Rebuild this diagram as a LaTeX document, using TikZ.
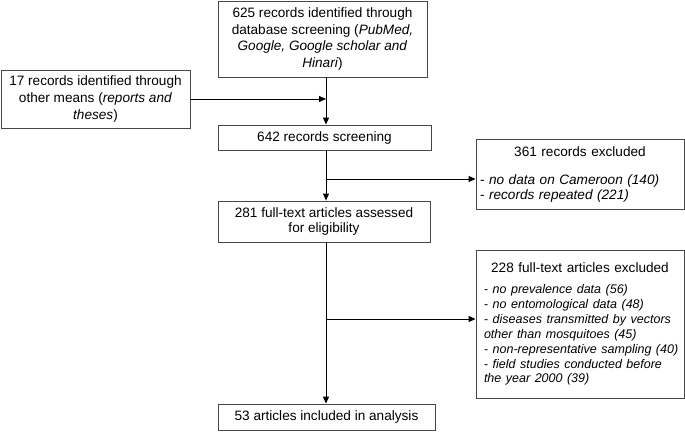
\documentclass[tikz,border=0pt]{standalone}
\usepackage{fontspec}
\setmainfont{Liberation Sans}
\usetikzlibrary{arrows.meta}
\begin{document}
\begin{tikzpicture}[x=1pt,y=-1pt,
  box/.style={draw=black!72, line width=0.9pt, inner sep=0pt, align=center,
    font=\fontsize{13.6}{16.7}\selectfont},
  exbox/.style={draw=black!72, line width=0.9pt, inner ysep=0pt, align=left,
    font=\fontsize{13.6}{14.7}\selectfont},
  arr/.style={line width=1pt, -{Triangle[length=7pt,width=6pt]}}]
\useasboundingbox (0,0) rectangle (685,432);
\node[box, minimum width=209pt, minimum height=76pt] (db) at (322.5,39)
  {625 records identified through\\database screening (\textit{PubMed,}\\\textit{Google, Google scholar and}\\\textit{Hinari})};
\node[box, minimum width=189pt, minimum height=58pt] (other) at (95.5,99)
  {17 records identified through\\other means (\textit{reports and}\\\textit{theses})};
\node[box, minimum width=213pt, minimum height=25pt] (scr) at (324.5,137.5)
  {642 records screening};
\node[box, minimum width=212pt, minimum height=41pt, font=\fontsize{13.6}{15}\selectfont] (elig) at (324,221.5)
  {281 full-text articles assessed\\for eligibility};
\node[box, minimum width=217pt, minimum height=26pt] (incl) at (326.5,417)
  {53 articles included in analysis};
\node[exbox, text width=200pt, inner xsep=4pt, minimum height=70pt, font=\fontsize{13.6}{15}\selectfont] (ex1) at (580,174)
  {\makebox[\linewidth][c]{361 records excluded}\\[13pt]
   \mbox{- \textit{no data on Cameroon (140)}}\\
   \mbox{- \textit{records repeated (221)}}};
\node[exbox, text width=192pt, inner xsep=8pt, minimum height=148pt] (ex2) at (580,324)
  {\makebox[\linewidth][c]{228 full-text articles excluded}\\[6pt]
   {\fontsize{12.5}{15}\selectfont
   \mbox{- \textit{no prevalence data (56)}}\\
   \mbox{- \textit{no entomological data (48)}}\\
   \mbox{- \textit{diseases transmitted by vectors}}\\
   \mbox{\textit{other than mosquitoes (45)}}\\
   \mbox{- \textit{non-representative sampling (40)}}\\
   \mbox{- \textit{field studies conducted before}}\\
   \mbox{\textit{the year 2000 (39)}}}};
\coordinate (sp) at (326,0);
\coordinate (b1) at (326,179);
\coordinate (b2) at (326,319);
\draw[arr] (other.east) -- (other.east -| sp);
\draw[arr] (db.south -| sp) -- (scr.north -| sp);
\draw[arr] (scr.south -| sp) -- (elig.north -| sp);
\draw[arr] (elig.south -| sp) -- (incl.north -| sp);
\draw[arr] (b1) -- (b1 -| ex1.west);
\draw[arr] (b2) -- (b2 -| ex2.west);
\end{tikzpicture}
\end{document}
